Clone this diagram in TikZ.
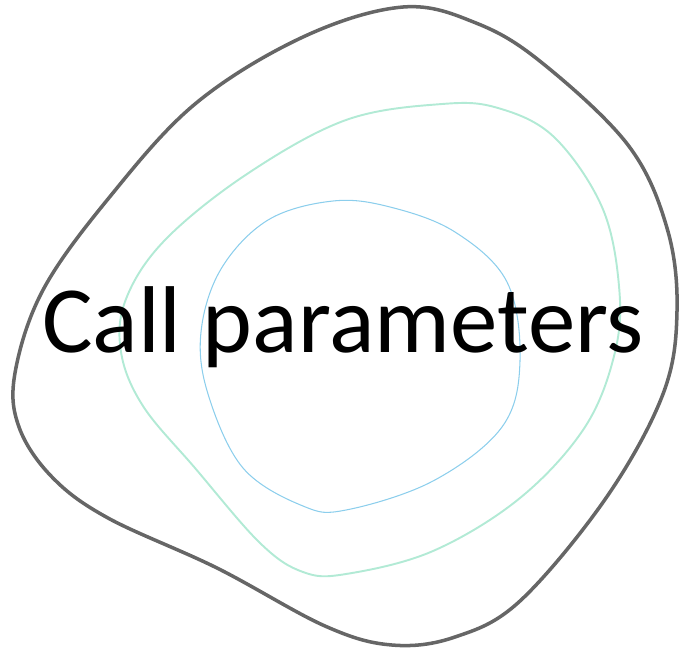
\documentclass[tikz,border=0pt]{standalone}
\usepackage{fontspec}
\setmainfont{Carlito}
\definecolor{rim}{RGB}{102,102,102}
\definecolor{mint}{RGB}{178,234,213}
\definecolor{sky}{RGB}{140,206,236}

\begin{document}
\begin{tikzpicture}[
  x=0.02cm, y=-0.02cm,
  outer/.style={draw=rim, line width=2pt},
  middle/.style={draw=mint, line width=1.1pt},
  inner/.style={draw=sky, line width=0.6pt},
  label/.style={font=\fontsize{54}{60}\selectfont, inner sep=0pt, anchor=base}
]
\useasboundingbox (0,0) rectangle (679,650);
% outer rim
\draw[outer] plot[smooth cycle, tension=0.6] coordinates {
  (403,7) (303,37) (195,104) (108,199) (43,290) (15,373) (19,427)
  (52,477) (108,518) (217,568) (325,626) (392,645) (455,637) (520,601)
  (606,498) (663,394) (677,311) (667,228) (628,145) (541,62) (476,23)};
% middle ring
\draw[middle] plot[smooth cycle, tension=0.6] coordinates {
  (442,104) (346,120) (247,174) (165,240) (126,299) (121,352) (143,406)
  (195,468) (260,543) (303,572) (346,574) (433,551) (520,498) (585,427)
  (615,352) (619,286) (602,207) (554,137) (498,108)};
% inner ring
\draw[inner] plot[smooth cycle, tension=0.6] coordinates {
  (333,201) (268,220) (221,269) (201,332) (208,394) (243,468) (303,506)
  (346,510) (433,481) (502,427) (520,361) (507,282) (455,232) (390,207)};
\node[label] (title) at (343,352) {Call parameters};
\end{tikzpicture}
\end{document}
